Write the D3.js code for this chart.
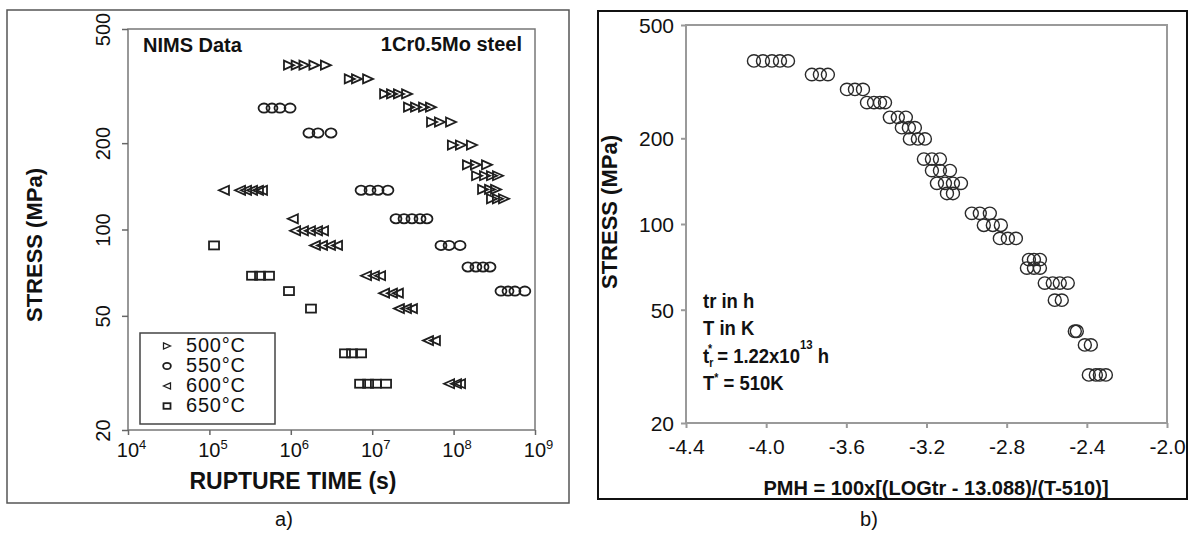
<!DOCTYPE html>
<meta charset="utf-8">
<html>
<head>
<style>
  body { margin: 0; background: #fff; }
  text { font-family: "Liberation Sans", Arial, sans-serif; fill: #111; }
  .outer-a { fill: none; stroke: #555; stroke-width: 1.5px; }
  .outer-b { fill: none; stroke: #111; stroke-width: 2px; }
  .frame-a { fill: none; stroke: #777; stroke-width: 1.5px; }
  .frame-b { fill: none; stroke: #9a9a9a; stroke-width: 2px; }
  .axis path.domain { display: none; }
  .axis-a line { stroke: #666; stroke-width: 1.5px; }
  .axis-b line { stroke: #9a9a9a; stroke-width: 2px; }
  .mark { fill: none; stroke: #1e1e1e; stroke-width: 1.8px; }
  .ring { fill: none; stroke: #2a2a2a; stroke-width: 1.4px; }
  .bold { font-weight: bold; }
</style>
<script src="https://cdn.jsdelivr.net/npm/d3@7"></script>
</head>
<body>
<svg id="chart" width="1192" height="534"></svg>
<script>
// ---- panel a) rupture time (s) vs stress (MPa) ----
var legendLabels = ["500°C", "550°C", "600°C", "650°C"];
var timeTicks = [1e4, 1e5, 1e6, 1e7, 1e8, 1e9];
var stressTicks = [20, 50, 100, 200, 500];

var data500 = [
  [9.5e5,374],[1.18e6,374],[1.47e6,374],[1.95e6,374],[2.7e6,374],
  [5.3e6,335],[6.5e6,335],[8.9e6,335],
  [1.44e7,297],[1.75e7,297],[2.13e7,297],[2.68e7,297],
  [2.83e7,267],[3.45e7,267],[4.33e7,267],[5.27e7,267],
  [5.43e7,237],[6.8e7,237],[9.3e7,237],
  [9.8e7,197],[1.23e8,197],[1.68e8,197],
  [1.5e8,168],[1.88e8,168],[2.57e8,168],
  [1.94e8,154],[2.43e8,154],[2.96e8,154],[3.51e8,154],
  [2.3e8,138],[2.8e8,138],[3.32e8,138],
  [2.96e8,128],[3.5e8,128],[4.16e8,128]
];
var data550 = [
  [4.69e5,265],[5.87e5,265],[7.36e5,265],[9.8e5,265],
  [1.67e6,217],[2.16e6,217],[3.12e6,217],
  [7.3e6,137],[9.4e6,137],[1.18e7,137],[1.56e7,137],
  [1.96e7,109],[2.46e7,109],[3.08e7,109],[3.87e7,109],[4.71e7,109],
  [7.0e7,88],[8.8e7,88],[1.2e8,88],
  [1.5e8,74],[1.88e8,74],[2.3e8,74],[2.8e8,74],
  [3.82e8,61],[4.66e8,61],[5.67e8,61],[7.5e8,61]
];
var data600 = [
  [1.51e5,137],[2.38e5,137],[2.82e5,137],[3.34e5,137],[3.95e5,137],[4.43e5,137],
  [1.06e6,109],
  [1.13e6,99],[1.41e6,99],[1.72e6,99],[2.1e6,99],[2.49e6,99],
  [1.98e6,88],[2.42e6,88],[3.03e6,88],[3.7e6,88],
  [8.4e6,69],[1.05e7,69],[1.25e7,69],
  [1.4e7,60],[1.75e7,60],[2.07e7,60],
  [2.13e7,53],[2.6e7,53],[3.08e7,53],
  [4.85e7,41],[5.9e7,41],
  [8.8e7,29],[1.07e8,29],[1.2e8,29]
];
var data650 = [
  [1.14e5,88],
  [3.34e5,69],[4.19e5,69],[5.4e5,69],
  [9.5e5,61],
  [1.77e6,53],
  [4.63e6,37],[5.65e6,37],[7.3e6,37],
  [7.1e6,29],[8.9e6,29],[1.11e7,29],[1.48e7,29]
];

// ---- panel b) PMH vs stress ----
var pmhTicks = [-4.4, -4.0, -3.6, -3.2, -2.8, -2.4, -2.0];
var pmhStress = [374, 335, 297, 267, 237, 218, 199, 169, 154, 139, 128, 109, 99, 89, 75, 70, 62, 54, 42, 37.6, 29.5];
var pmhValues = [
  [-4.061, -4.016, -3.971, -3.931, -3.891],
  [-3.772, -3.732, -3.692],
  [-3.597, -3.557, -3.517],
  [-3.497, -3.462, -3.432, -3.407],
  [-3.383, -3.343, -3.303],
  [-3.323, -3.288, -3.258],
  [-3.283, -3.243, -3.208],
  [-3.213, -3.173, -3.133],
  [-3.173, -3.133, -3.083],
  [-3.148, -3.108, -3.068, -3.028],
  [-3.098, -3.068],
  [-2.974, -2.934, -2.884],
  [-2.914, -2.869, -2.829],
  [-2.834, -2.794, -2.754],
  [-2.689, -2.664, -2.634],
  [-2.699, -2.664, -2.634],
  [-2.61, -2.57, -2.535, -2.495],
  [-2.56, -2.525],
  [-2.46, -2.45],
  [-2.41, -2.38],
  [-2.39, -2.355, -2.335, -2.305]
];

var svg = d3.select("#chart");

var triRight = "M-5,-4.5L5,0L-5,4.5Z",
    triLeft = "M5,-4.5L-5,0L5,4.5Z";

function drawMarker(g, kind, scale) {
  scale = scale || 1;
  if (kind == 0) g.append("path").attr("class", "mark").attr("d", triRight).attr("transform", "scale(" + scale + ")");
  else if (kind == 1) g.append("ellipse").attr("class", "mark").attr("rx", 5.5 * scale).attr("ry", 4.6 * scale);
  else if (kind == 2) g.append("path").attr("class", "mark").attr("d", triLeft).attr("transform", "scale(" + scale + ")");
  else g.append("rect").attr("class", "mark").attr("x", -5 * scale).attr("y", -4 * scale)
          .attr("width", 10 * scale).attr("height", 8 * scale);
}

// ================= panel a =================
svg.append("rect").attr("class", "outer-a").attr("x", 7).attr("y", 10).attr("width", 562).attr("height", 493);

var xA = d3.scaleLog().domain([1e4, 1e9]).range([128, 535]);
var yA = d3.scaleLog().domain([20, 500]).range([430, 29]);

svg.append("rect").attr("class", "frame-a")
  .attr("x", xA(1e4)).attr("y", yA(500))
  .attr("width", xA(1e9) - xA(1e4)).attr("height", yA(20) - yA(500));

var yAxisA = svg.append("g").attr("class", "axis axis-a")
  .attr("transform", "translate(" + xA(1e4) + ",0)")
  .call(d3.axisLeft(yA).tickValues(stressTicks).tickSize(6).tickFormat(d3.format("d")));
yAxisA.selectAll("text")
  .attr("transform", "rotate(-90)")
  .attr("x", 0).attr("y", -18).attr("dy", 0)
  .style("text-anchor", "middle")
  .style("font-size", "20px").style("fill", "#111");

var xAxisA = svg.append("g").attr("class", "axis axis-a")
  .attr("transform", "translate(0," + yA(20) + ")")
  .call(d3.axisBottom(xA).tickValues(timeTicks).tickSize(5).tickFormat(""));
xAxisA.selectAll(".tick").each(function(d) {
  var t = d3.select(this).append("text")
    .attr("x", 3).attr("y", 27).style("text-anchor", "middle")
    .style("font-size", "20px").style("fill", "#111");
  t.append("tspan").text("10");
  t.append("tspan").attr("dy", -8).style("font-size", "13px").text(Math.round(Math.log10(d)));
});

var seriesA = [data500, data550, data600, data650];
seriesA.forEach(function(rows, k) {
  svg.append("g").selectAll("g")
    .data(rows).enter().append("g")
    .attr("transform", function(d) { return "translate(" + xA(d[0]) + "," + yA(d[1]) + ")"; })
    .each(function() { drawMarker(d3.select(this), k); });
});

svg.append("text").attr("class", "bold").attr("x", 143).attr("y", 52)
  .style("font-size", "20px").text("NIMS Data");
svg.append("text").attr("class", "bold").attr("x", 522).attr("y", 51)
  .style("text-anchor", "end").style("font-size", "20px").text("1Cr0.5Mo steel");

// legend
svg.append("rect").attr("x", 140).attr("y", 333).attr("width", 135).attr("height", 91)
  .style("fill", "#fff").style("stroke", "#444").style("stroke-width", "1.5px");
var legend = svg.selectAll(".legend").data(legendLabels).enter().append("g")
  .attr("class", "legend")
  .attr("transform", function(d, i) { return "translate(0," + (352 + i * 20) + ")"; });
legend.each(function(d, i) {
  var g = d3.select(this).append("g").attr("transform", "translate(167,-6)");
  drawMarker(g, i, 0.7);
});
legend.append("text").attr("x", 186).attr("y", 0)
  .style("font-size", "20px").style("letter-spacing", "0.8px")
  .text(function(d) { return d; });

svg.append("text").attr("class", "bold")
  .attr("transform", "translate(42,245) rotate(-90)")
  .style("text-anchor", "middle").style("font-size", "22px").text("STRESS (MPa)");
svg.append("text").attr("class", "bold").attr("x", 293).attr("y", 489)
  .style("text-anchor", "middle").style("font-size", "23px").text("RUPTURE TIME (s)");

svg.append("text").attr("x", 284).attr("y", 526)
  .style("text-anchor", "middle").style("font-size", "20px").text("a)");

// ================= panel b =================
svg.append("rect").attr("class", "outer-b").attr("x", 598).attr("y", 11).attr("width", 589).attr("height", 488);

var xB = d3.scaleLinear().domain([-4.4, -2.0]).range([686, 1167]);
var yB = d3.scaleLog().domain([20, 500]).range([423, 25]);

svg.append("rect").attr("class", "frame-b")
  .attr("x", xB(-4.4)).attr("y", yB(500))
  .attr("width", xB(-2.0) - xB(-4.4)).attr("height", yB(20) - yB(500));

var yAxisB = svg.append("g").attr("class", "axis axis-b")
  .attr("transform", "translate(" + xB(-4.4) + ",0)")
  .call(d3.axisLeft(yB).tickValues(stressTicks).tickSize(5).tickFormat(d3.format("d")));
yAxisB.selectAll("text").attr("x", -12).attr("dy", "0.35em")
  .style("font-size", "21px").style("fill", "#111");

var xAxisB = svg.append("g").attr("class", "axis axis-b")
  .attr("transform", "translate(0," + yB(20) + ")")
  .call(d3.axisBottom(xB).tickValues(pmhTicks).tickSize(5).tickFormat(d3.format(".1f")));
xAxisB.selectAll("text").attr("y", 12).attr("dy", "0.9em")
  .style("font-size", "21px").style("fill", "#111")
  .text(function(d) { return d.toFixed(1).replace("\u2212", "-"); });

var ptsB = [];
pmhStress.forEach(function(s, i) {
  pmhValues[i].forEach(function(p) { ptsB.push([p, s]); });
});
svg.append("g").selectAll("ellipse")
  .data(ptsB).enter().append("ellipse")
  .attr("class", "ring")
  .attr("cx", function(d) { return xB(d[0]); })
  .attr("cy", function(d) { return yB(d[1]); })
  .attr("rx", 6.5).attr("ry", 6.2);

svg.append("text").attr("class", "bold")
  .attr("transform", "translate(617,212) rotate(-90)")
  .style("text-anchor", "middle").style("font-size", "22px").text("STRESS (MPa)");
svg.append("text").attr("class", "bold").attr("x", 936).attr("y", 495)
  .style("text-anchor", "middle").style("font-size", "20px")
  .text("PMH = 100x[(LOGtr - 13.088)/(T-510)]");

// annotation, squeezed horizontally like a narrow face
var note = svg.append("g").attr("class", "note").attr("transform", "translate(703,0) scale(0.88,1)");
note.append("text").attr("class", "bold").attr("x", 0).attr("y", 308)
  .style("font-size", "21px").text("tr in h");
note.append("text").attr("class", "bold").attr("x", 0).attr("y", 335)
  .style("font-size", "21px").text("T in K");
var t3 = note.append("text").attr("class", "bold").attr("x", 0).attr("y", 363).style("font-size", "21px");
t3.append("tspan").text("t");
t3.append("tspan").attr("dy", 4).style("font-size", "12px").text("r");
t3.append("tspan").attr("dx", -6).attr("dy", -14).style("font-size", "12px").text("*");
t3.append("tspan").attr("dy", 10).text(" = 1.22x10");
t3.append("tspan").attr("dy", -14).style("font-size", "13px").text("13");
t3.append("tspan").attr("dy", 14).text(" h");
var t4 = note.append("text").attr("class", "bold").attr("x", 0).attr("y", 390).style("font-size", "21px");
t4.append("tspan").text("T");
t4.append("tspan").attr("dy", -8).style("font-size", "12px").text("*");
t4.append("tspan").attr("dy", 8).text(" = 510K");

svg.append("text").attr("x", 869).attr("y", 526)
  .style("text-anchor", "middle").style("font-size", "20px").text("b)");
</script>
</body>
</html>
